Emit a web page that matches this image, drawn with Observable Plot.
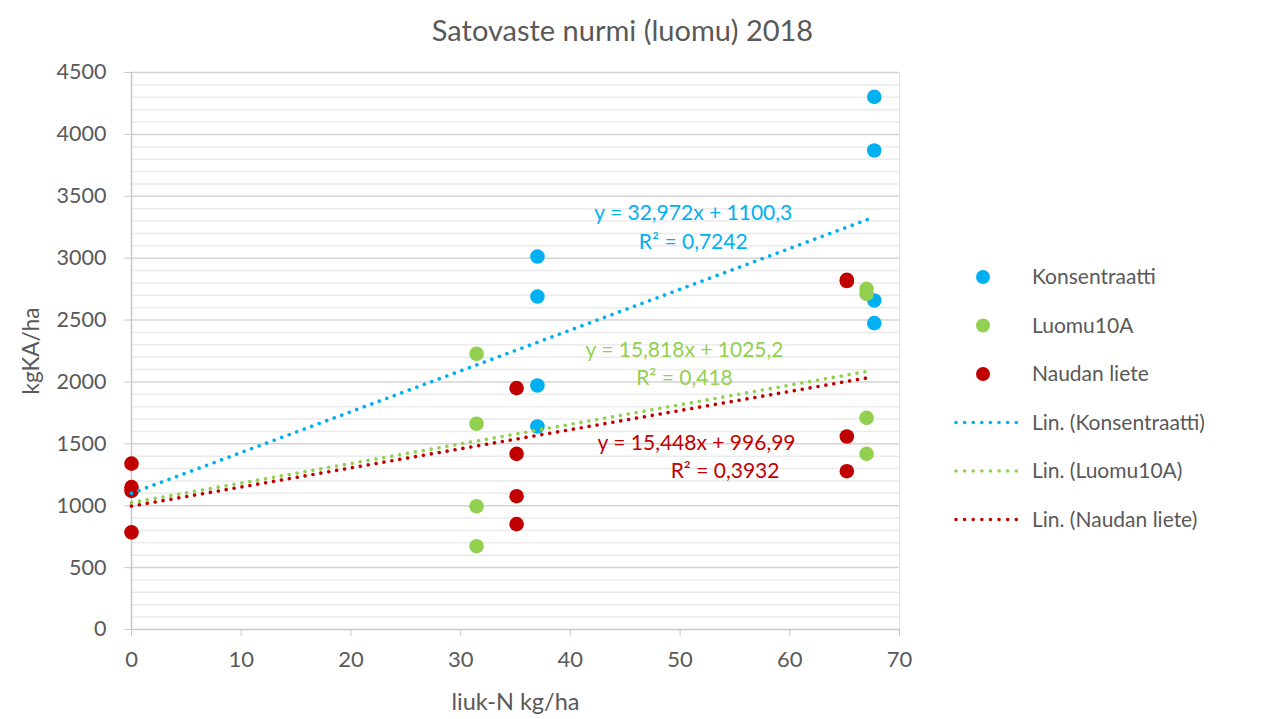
<!DOCTYPE html>
<html><head><meta charset="utf-8">
<script src="https://cdn.jsdelivr.net/npm/d3@7"></script>
<script src="https://cdn.jsdelivr.net/npm/@observablehq/plot@0.6"></script>
<style>
html,body{margin:0;padding:0;background:#fff;}
#chart{width:1264px;height:719px;}
</style></head>
<body><div id="chart"></div>
<script>
// Series names and colours
const seriesNames = ["Konsentraatti", "Luomu10A", "Naudan liete"];
const seriesColors = ["#00B0F0", "#92D050", "#C00000"];

// Konsentraatti
const konsX = [37.0, 37.0, 37.0, 37.0, 67.7, 67.7, 67.7, 67.7];
const konsY = [3013, 2690, 1971, 1640, 4303, 3870, 2658, 2475];
// Luomu10A
const luomuX = [31.45, 31.45, 31.45, 31.45, 67.0, 67.0, 67.0, 67.0];
const luomuY = [2227, 1662, 996, 673, 2752, 2712, 1710, 1419];
// Naudan liete
const nautaX = [0, 0, 0, 0, 35.1, 35.1, 35.1, 35.1, 65.2, 65.2, 65.2, 65.2];
const nautaY = [1340, 1150, 1120, 785, 1950, 1419, 1077, 851, 2825, 2815, 1559, 1279];

// Trend lines (Excel linear trendlines): slope, intercept, R², x range end
const trendSlope = [32.972, 15.818, 15.448];
const trendIntercept = [1100.3, 1025.2, 996.99];
const trendR2 = ["0,7242", "0,418", "0,3932"];
const trendEq = ["y = 32,972x + 1100,3", "y = 15,818x + 1025,2", "y = 15,448x + 996,99"];
const trendXmax = [67.7, 67.0, 67.1];

const xTicks = [0, 10, 20, 30, 40, 50, 60, 70];
const yTicks = [0, 500, 1000, 1500, 2000, 2500, 3000, 3500, 4000, 4500];

const title = "Satovaste nurmi (luomu) 2018";
const xLabel = "liuk-N kg/ha";
const yLabel = "kgKA/ha";

// Build tables
const xs = [konsX, luomuX, nautaX], ys = [konsY, luomuY, nautaY];
const points = [];
xs.forEach((arr, s) => arr.forEach((x, i) => points.push({x, y: ys[s][i], s})));
const trends = [];
trendSlope.forEach((m, s) => {
  [0, trendXmax[s]].forEach(x => trends.push({x, y: m * x + trendIntercept[s], s}));
});
const labels = [
  {x: 51.2, y: 3361, t: trendEq[0], s: 0}, {x: 51.2, y: 3127, t: "R² = " + trendR2[0], s: 0},
  {x: 50.4, y: 2254, t: trendEq[1], s: 1}, {x: 50.4, y: 2028, t: "R² = " + trendR2[1], s: 1},
  {x: 51.5, y: 1503, t: trendEq[2], s: 2}, {x: 54.1, y: 1276, t: "R² = " + trendR2[2], s: 2}
];

const FONT = "Lato, 'Open Sans', sans-serif";
const GREY = "#595959";

const plot = Plot.plot({
  width: 1264, height: 719,
  marginLeft: 131, marginRight: 365, marginTop: 72, marginBottom: 90,
  style: {fontFamily: FONT, color: GREY, background: "#fff"},
  x: {domain: [0, 70]},
  y: {domain: [0, 4500]},
  marks: [
    Plot.ruleY(d3.range(100, 4501, 100).filter(v => v % 500 !== 0), {stroke: "#ebebeb", strokeWidth: 1.5}),
    Plot.ruleY(yTicks.filter(v => v > 0), {stroke: "#d4d4d4", strokeWidth: 1.5}),
    Plot.ruleX([70], {stroke: "#e4e4e4", strokeWidth: 1}),
    Plot.ruleY([0], {stroke: "#c8c8c8", strokeWidth: 1.5}),
    Plot.ruleX([0], {stroke: "#c8c8c8", strokeWidth: 1.5}),
    Plot.axisY({ticks: yTicks, tickFormat: d3.format("d"), tickSize: 7, tickPadding: 18, fontSize: 21.5, stroke: "#c8c8c8",
      label: yLabel, labelAnchor: "center", labelArrow: "none", labelOffset: 108}),
    Plot.axisX({ticks: xTicks, tickFormat: d3.format("d"), tickSize: 7, tickPadding: 15, fontSize: 22, stroke: "#c8c8c8",
      label: xLabel, labelAnchor: "center", labelArrow: "none", labelOffset: 80}),
    Plot.dot(points, {x: "x", y: "y", r: 7.3, fill: d => seriesColors[d.s], stroke: "none"}),
    Plot.line(trends, {x: "x", y: "y", z: "s", stroke: d => seriesColors[d.s], strokeWidth: 3.6,
      strokeDasharray: "0.01 8", strokeLinecap: "round"}),
    Plot.text(labels, {x: "x", y: "y", text: "t", fill: d => seriesColors[d.s], fontSize: 21, textAnchor: "middle"}),
    Plot.text([title], {frameAnchor: "top", dx: 107, dy: -52, fontSize: 29, fill: GREY})
  ]
});
plot.querySelectorAll("g[aria-label='y-axis label'] text").forEach(t => {
  t.setAttribute("font-size", 22.5); t.style.fontSize = "22.5px";
});
plot.querySelectorAll("g[aria-label='x-axis label'] text").forEach(t => {
  t.setAttribute("font-size", 23.5); t.style.fontSize = "23.5px";
});
document.getElementById("chart").appendChild(plot);

// Legend
const svg = d3.select(plot);
const lg = svg.append("g").attr("font-family", FONT).attr("font-size", 21).attr("fill", GREY).attr("text-anchor", "start");
const legendItems = seriesNames.map((n, i) => ({type: "dot", name: n, c: seriesColors[i]}))
  .concat(seriesNames.map((n, i) => ({type: "line", name: "Lin. (" + n + ")", c: seriesColors[i]})));
legendItems.forEach((d, i) => {
  const yy = 277 + i * 48.5;
  if (d.type === "dot") lg.append("circle").attr("cx", 983).attr("cy", yy).attr("r", 7).attr("fill", d.c);
  else lg.append("line").attr("x1", 956).attr("x2", 1017).attr("y1", yy).attr("y2", yy)
    .attr("stroke", d.c).attr("stroke-width", 3.6).attr("stroke-dasharray", "0.01 8.6").attr("stroke-linecap", "round");
  lg.append("text").attr("x", 1032).attr("y", yy).attr("dy", "0.35em").attr("text-anchor", "start").text(d.name);
});
</script>
</body></html>
